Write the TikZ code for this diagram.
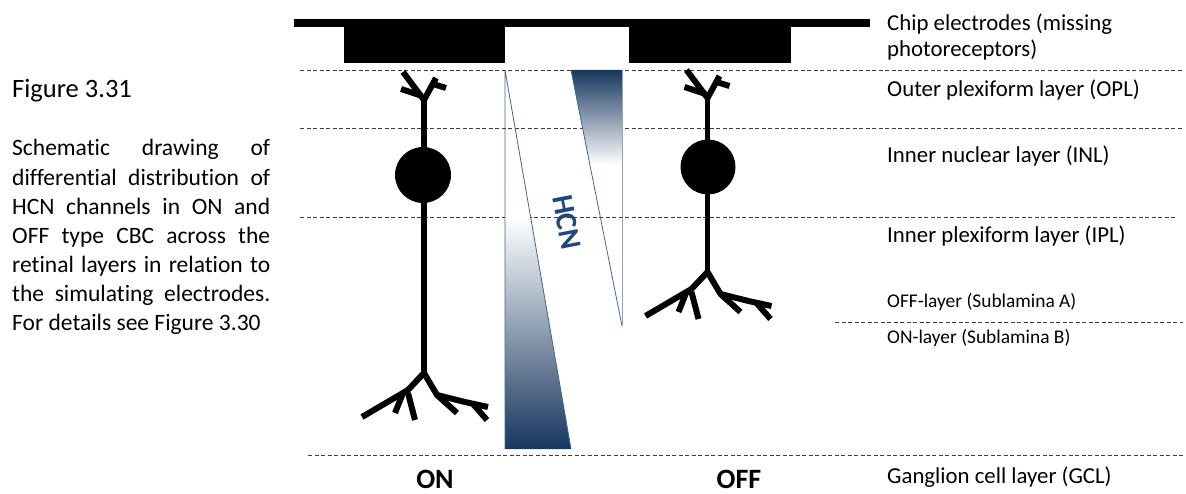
\documentclass[tikz,border=0pt]{standalone}
\usepackage{fontspec}
\setmainfont[Ligatures=NoCommon]{Carlito}
\definecolor{hcnnavy}{RGB}{23,55,94}
\definecolor{hcnedge}{RGB}{68,100,150}
\definecolor{hcntext}{RGB}{31,73,125}
\definecolor{laygray}{RGB}{60,60,60}
\tikzset{
  layer/.style={draw=laygray,line width=0.9pt,dash pattern=on 4pt off 2.5pt},
  lbl/.style={anchor=base west,inner sep=0pt,font=\fontsize{22.8}{27}\selectfont},
  sublbl/.style={anchor=base west,inner sep=0pt,font=\fontsize{19.4}{23}\selectfont},
  cell/.style={line width=6pt},
  axon/.style={line width=5.5pt},
  soma/.style={circle,fill=black,inner sep=0pt,minimum size=56pt},
  pics/topdend/.style={code={
    \draw[cell] (0,0) -- (-21,-28);
    \draw[cell] (-2,-4) -- (-23,-11);
    \draw[cell] (0,0) -- (12,-22);
    \draw[cell] (9,-16) -- (22,-12);
  }},
  pics/botdend/.style={code={
    \draw[cell] (0,0) -- (-16,17) -- (-62,44);
    \draw[cell] (-21,20) -- (-29,40);
    \draw[cell] (-16,20) -- (-9,47);
    \draw[cell] (0,0) -- (13,22) -- (33,40);
    \draw[cell] (13,22) -- (41,29) -- (64,34);
    \draw[cell] (49,31) -- (63,47);
  }},
}

\begin{document}
\begin{tikzpicture}[x=1pt,y=-1pt]
\useasboundingbox (0,0) rectangle (1186,494);

% caption
\node[anchor=base west,inner sep=0pt,font=\fontsize{26.5}{30}\selectfont] (figno) at (12,98) {Figure 3.31};
\node[anchor=base west,inner sep=0pt,text width=258pt,align=justify,
  font=\fontsize{23.5}{29.1}\selectfont] (caption) at (12,156)
  {\tolerance=10000\hyphenpenalty=10000
   Schematic drawing of\linebreak
   differential distribution of\linebreak
   HCN channels in ON and\linebreak
   OFF type CBC across the\linebreak
   retinal layers in relation to\linebreak
   the simulating electrodes.\linebreak
   For details see Figure 3.30};

% chip electrodes
\fill (294,19) rectangle (870,27);
\fill (344,26) rectangle (505,63);
\fill (629,26) rectangle (791,63);

% layer borders
\foreach \yy in {70,128} \draw[layer] (300,\yy) -- (1183,\yy);
\draw[layer] (300,217) -- (1177,217);
\draw[layer] (835,322) -- (1183,322);
\draw[layer] (308,455) -- (1183,455);

% HCN wedges
\begin{scope}
  \clip (505,70) -- (571,449) -- (505,449) -- cycle;
  \shade[top color=white,bottom color=hcnnavy] (505,217) rectangle (571,449);
\end{scope}
\draw[hcnedge,line width=0.8pt] (505,449) -- (505,70) -- (571,449);
\begin{scope}
  \clip (571,70) -- (622,70) -- (622,326) -- cycle;
  \shade[top color=hcnnavy,bottom color=white] (571,70) rectangle (622,165);
\end{scope}
\draw[hcnedge,line width=0.8pt] (571,70) -- (622,326);
\draw[hcnedge!60,line width=0.8pt] (622,326) -- (622,70);
\node[rotate=-79,inner sep=0pt,text=hcntext,font=\fontsize{30}{30}\bfseries\selectfont] (hcn) at (567,222) {HCN};

% ON cell
\coordinate (ontop) at (424,100);
\coordinate (onfoot) at (424,373);
\draw[axon] (ontop) -- (onfoot);
\node[soma] (onsoma) at (423,175) {};
\pic at (ontop) {topdend};
\pic at (onfoot) {botdend};

% OFF cell
\coordinate (offtop) at (707.5,98);
\coordinate (offfoot) at (707.5,272);
\draw[axon] (offtop) -- (offfoot);
\node[soma,minimum size=55pt] (offsoma) at (708,167) {};
\pic at (offtop) {topdend};
\pic at (offfoot) {botdend};

\node[anchor=base,inner sep=0pt,font=\fontsize{28}{28}\bfseries\selectfont] (onlbl) at (435,488) {ON};
\node[anchor=base,inner sep=0pt,font=\fontsize{28}{28}\bfseries\selectfont] (offlbl) at (739,488) {OFF};

% layer names
\node[lbl] (chipa) at (887,31) {Chip electrodes (missing};
\node[lbl] (chipb) at (887,57) {photoreceptors)};
\node[lbl] (opl) at (887,97) {Outer plexiform layer (OPL)};
\node[lbl] (inl) at (887,163) {Inner nuclear layer (INL)};
\node[lbl] (ipl) at (887,243) {Inner plexiform layer (IPL)};
\node[sublbl] (offsub) at (887,308) {OFF-layer (Sublamina A)};
\node[sublbl] (onsub) at (887,344) {ON-layer (Sublamina B)};
\node[lbl] (gcl) at (887,483) {Ganglion cell layer (GCL)};
\end{tikzpicture}
\end{document}
